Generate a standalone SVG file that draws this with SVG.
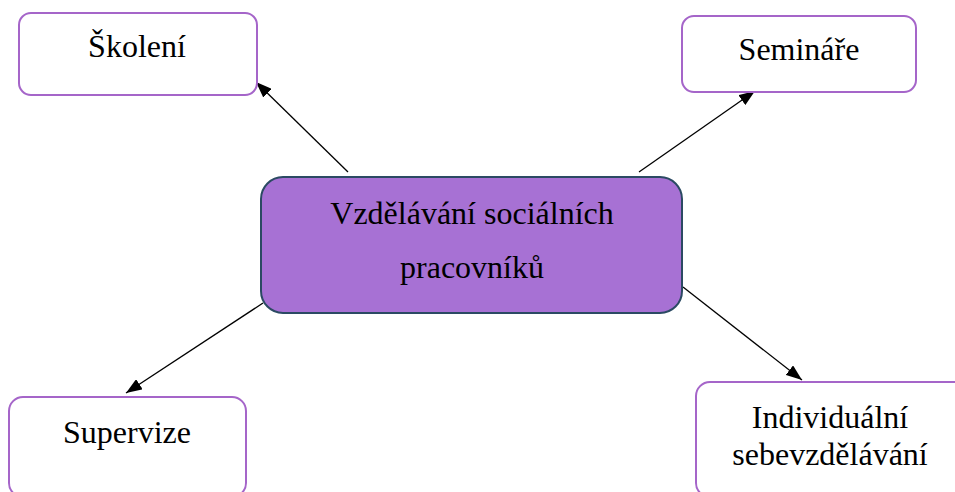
<svg xmlns="http://www.w3.org/2000/svg" width="955" height="492" viewBox="0 0 955 492">
<style>
.box{fill:#ffffff;stroke:#A565C9;stroke-width:2}
.main{fill:#A771D4;stroke:#2B4A63;stroke-width:2}
.t{font-family:"Liberation Serif","Times New Roman",serif;font-size:32px;fill:#000;text-anchor:middle}
.c{stroke:#000;stroke-width:1.3;fill:none;marker-end:url(#ah)}
</style>
<defs>
<marker id="ah" viewBox="0 0 16 12" refX="16" refY="6" markerWidth="16" markerHeight="12" markerUnits="userSpaceOnUse" orient="auto">
<path d="M0,0 L16,6 L0,12 Z" fill="#000"/>
</marker>
</defs>
<g id="connectors">
<line class="c" x1="348" y1="172" x2="256" y2="82"/>
<line class="c" x1="639" y1="172" x2="755" y2="91"/>
<line class="c" x1="263" y1="303" x2="126" y2="393"/>
<line class="c" x1="683" y1="287" x2="802" y2="380"/>
</g>
<g id="center">
<rect class="main" x="261" y="177" width="421" height="136" rx="22"/>
<text class="t" x="472" y="224">Vzdělávání sociálních</text>
<text class="t" x="472" y="278">pracovníků</text>
</g>
<g id="skoleni">
<rect class="box" x="19" y="13" width="238" height="82" rx="12"/>
<text class="t" x="137" y="57">Školení</text>
</g>
<g id="seminare">
<rect class="box" x="682" y="16" width="234" height="76" rx="12"/>
<text class="t" x="799" y="60">Semináře</text>
</g>
<g id="supervize">
<rect class="box" x="9" y="397" width="237" height="100" rx="14"/>
<text class="t" x="127" y="443">Supervize</text>
</g>
<g id="individualni">
<rect class="box" x="696" y="382" width="275" height="115" rx="14"/>
<text class="t" x="830" y="428">Individuální</text>
<text class="t" x="830" y="465">sebevzdělávání</text>
</g>
</svg>
